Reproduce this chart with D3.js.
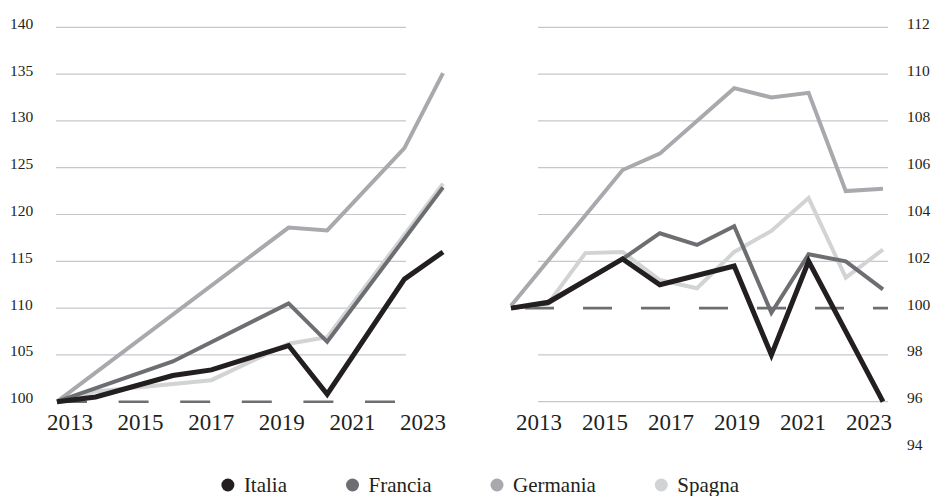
<!DOCTYPE html>
<html>
<head>
<meta charset="utf-8">
<script src="https://cdn.jsdelivr.net/npm/d3@7"></script>
<style>
  html, body { margin: 0; padding: 0; background: #fff; }
  svg { display: block; }
</style>
</head>
<body>
<svg id="chart" width="934" height="496"></svg>
<script>
// ---- data ----
const years = [2013, 2014, 2015, 2016, 2017, 2018, 2019, 2020, 2021, 2022, 2023];
const tickYears = [2013, 2015, 2017, 2019, 2021, 2023];
const countries = ["Italia", "Francia", "Germania", "Spagna"];
const colors = ["#231f20", "#6d6e71", "#a7a9ac", "#d1d3d4"];

// left panel (index, 2013 = 100)
const italiaLeft   = [100, 100.5, null, 102.8, 103.4, null, 106.0, 100.8, null, 113.1, 116.0];
const franciaLeft  = [100, null, null, 104.3, null, null, 110.5, 106.4, null, null, 122.9];
const germaniaLeft = [100, null, null, null, null, null, 118.6, 118.3, null, 127.1, 135.1];
const spagnaLeft   = [100, 101.1, null, null, 102.3, null, 106.2, 106.9, null, null, 123.3];
const leftTicks = [100, 105, 110, 115, 120, 125, 130, 135, 140];

// right panel
const italiaRight   = [100, 100.25, null, 102.1, 101.0, null, 101.8, 98.0, 102.0, null, 96.0];
const franciaRight  = [100, 100.2, null, 102.1, 103.2, 102.7, 103.5, 99.8, 102.3, 102.0, 100.8];
const germaniaRight = [100.1, null, null, 105.9, 106.6, null, 109.4, 109.0, 109.2, 105.0, 105.1];
const spagnaRight   = [100, 100.2, 102.35, 102.4, 101.2, 100.85, 102.4, 103.3, 104.7, 101.3, 102.5];
const rightTicks = [94, 96, 98, 100, 102, 104, 106, 108, 110, 112];

const FONT = "'Liberation Serif', 'DejaVu Serif', serif";
const svg = d3.select("#chart").attr("font-family", FONT);
const seriesOrder = [2, 3, 1, 0]; // draw order: Germania, Spagna, Francia, Italia

function panel(cfg) {
  const g = svg.append("g");
  const x = d3.scaleLinear().domain([2013, 2023]).range(cfg.xRange);
  const xl = d3.scaleLinear().domain([2013, 2023]).range(cfg.labelRange);
  const y = d3.scaleLinear().domain(cfg.yDomain).range(cfg.yRange);

  g.selectAll("line.grid").data(cfg.ticks.filter(t => cfg.gridTicks(t))).join("line")
    .attr("x1", cfg.gridRange[0]).attr("x2", cfg.gridRange[1])
    .attr("y1", d => y(d)).attr("y2", d => y(d))
    .attr("stroke", "#c6c7c9").attr("stroke-width", 1.2);

  g.append("line")
    .attr("x1", cfg.dashRange[0]).attr("x2", cfg.dashRange[1])
    .attr("y1", y(100)).attr("y2", y(100))
    .attr("stroke", "#6d6e71").attr("stroke-width", 2.6)
    .attr("stroke-dasharray", cfg.dash);

  g.selectAll("text.ytick").data(cfg.ticks).join("text")
    .attr("font-family", FONT).attr("fill", "#231f20")
    .attr("x", cfg.yLabelX).attr("y", d => y(d) + 1.5)
    .attr("font-size", 15.5).text(d => d);

  g.selectAll("text.xtick").data(tickYears).join("text")
    .attr("font-family", FONT).attr("fill", "#231f20")
    .attr("x", d => xl(d)).attr("y", 430)
    .attr("text-anchor", "middle").attr("font-size", 23).text(d => d);

  const line = d3.line().x(d => x(d.year)).y(d => y(d.v)).curve(d3.curveLinear);

  seriesOrder.forEach(i => {
    const pts = years.map((yr, k) => ({ year: yr, v: cfg.series[i][k] })).filter(p => p.v !== null);
    g.append("path").datum(pts)
      .attr("d", line)
      .attr("fill", "none")
      .attr("stroke", colors[i])
      .attr("stroke-width", i === 0 ? 5 : 4)
      .attr("stroke-linejoin", "miter")
      .attr("stroke-miterlimit", 10);
  });
}

panel({
  xRange: [57, 443], labelRange: [70, 423],
  yDomain: [100, 140], yRange: [401.7, 27.3],
  ticks: leftTicks, gridTicks: t => t !== 100,
  gridRange: [56, 406], dashRange: [57, 396], dash: "30,31.6",
  yLabelX: 10,
  series: [italiaLeft, franciaLeft, germaniaLeft, spagnaLeft]
});

panel({
  xRange: [511, 883], labelRange: [539, 869],
  yDomain: [94, 112], yRange: [448.5, 27.3],
  ticks: rightTicks, gridTicks: t => t !== 100 && t !== 94,
  gridRange: [538, 888], dashRange: [525, 888], dash: "29,29",
  yLabelX: 907,
  series: [italiaRight, franciaRight, germaniaRight, spagnaRight]
});

// legend
const legend = svg.append("g");
const items = legend.selectAll("g").data(countries).join("g");
items.append("circle").attr("r", 6.5).attr("cx", 0).attr("cy", 0)
  .attr("fill", (d, i) => colors[i]);
items.append("text").attr("font-family", FONT).attr("fill", "#231f20")
  .attr("x", 16).attr("y", 7).attr("font-size", 21).text(d => d);
let cx = 0;
const gap = 59;
items.each(function () {
  const w = d3.select(this).select("text").node().getComputedTextLength();
  d3.select(this).attr("transform", `translate(${cx},0)`);
  cx += 6.5 + 16 + w + gap;
});
const total = cx - gap + 6.5;
legend.attr("transform", `translate(${483.5 - total / 2 + 6.5},485)`);
</script>
</body>
</html>
